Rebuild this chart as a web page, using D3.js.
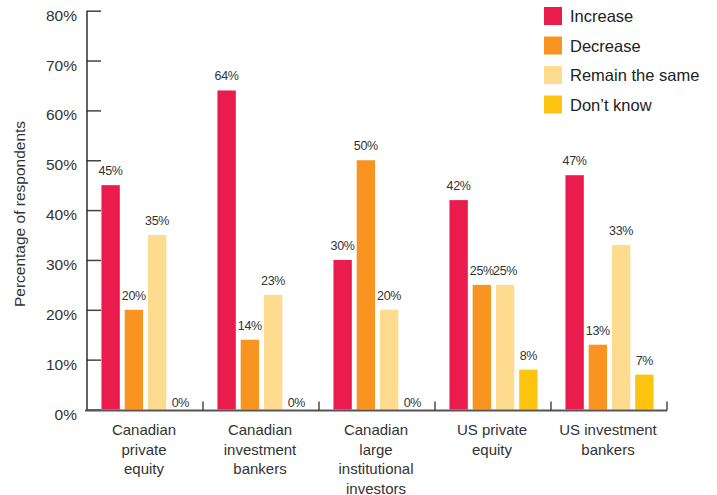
<!DOCTYPE html>
<html>
<head>
<meta charset="utf-8">
<script src="https://cdn.jsdelivr.net/npm/d3@7"></script>
<style>
  html, body { margin: 0; padding: 0; background: #fff; }
  svg { display: block; font-family: "Liberation Sans", Arial, sans-serif; }
</style>
</head>
<body>
<svg id="chart" width="717" height="495"></svg>
<script>
// Survey groups (x categories), split into text lines
const groups = [
  ["Canadian", "private", "equity"],
  ["Canadian", "investment", "bankers"],
  ["Canadian", "large", "institutional", "investors"],
  ["US private", "equity"],
  ["US investment", "bankers"]
];
const seriesNames = ["Increase", "Decrease", "Remain the same", "Don\u2019t know"];
const seriesColors = ["#E91C4D", "#F8941F", "#FEDB8F", "#FEC40F"];

// Percentage of respondents per group, one array per answer
const increase   = [45, 64, 30, 42, 47];
const decrease   = [20, 14, 50, 25, 13];
const remainSame = [35, 23, 20, 25, 33];
const dontKnow   = [0, 0, 0, 8, 7];

const yTicks = [0, 10, 20, 30, 40, 50, 60, 70, 80];

const series = [increase, decrease, remainSame, dontKnow];

const svg = d3.select("#chart");
const plotLeft = 87, plotRight = 667, plotTop = 10.7, plotBottom = 409.5;

const x0 = d3.scaleBand().domain(d3.range(groups.length)).range([plotLeft, plotRight]).paddingInner(0).paddingOuter(0);
const x1 = d3.scaleBand().domain(d3.range(series.length))
  .range([0, x0.bandwidth()]).paddingInner(0.21).paddingOuter(0.6);
const y = d3.scaleLinear().domain([0, 80]).range([plotBottom, plotTop]);

// Bars with value labels
groups.forEach((g, gi) => {
  const gEl = svg.append("g").attr("transform", `translate(${x0(gi) + 0.5},0)`);
  series.forEach((vals, si) => {
    const v = vals[gi];
    if (v > 0) {
      gEl.append("rect")
        .attr("x", x1(si))
        .attr("y", y(v))
        .attr("width", x1.bandwidth())
        .attr("height", y(0) - y(v))
        .attr("fill", seriesColors[si]);
    }
    gEl.append("text")
      .attr("x", x1(si) + x1.bandwidth() / 2)
      .attr("y", v > 0 ? y(v) - 10 : y(0) - 2.5)
      .attr("text-anchor", "middle")
      .attr("font-size", 12.5)
      .attr("letter-spacing", -0.3)
      .attr("fill", "#333")
      .text(v + "%");
  });
});

// Y axis: line, inward ticks and labels
const yAxis = d3.axisRight(y).tickValues(yTicks).tickSize(14).tickFormat("");
const yG = svg.append("g").attr("transform", `translate(${plotLeft},0)`).call(yAxis);
yG.select(".domain").remove();
yG.selectAll(".tick line").attr("stroke", "#444").attr("stroke-width", 1.5);
svg.append("line")
  .attr("x1", plotLeft).attr("x2", plotLeft).attr("y1", plotTop).attr("y2", plotBottom + 1)
  .attr("stroke", "#111").attr("stroke-width", 1.3);
svg.append("g").selectAll("text").data(yTicks).join("text")
  .attr("x", 77)
  .attr("y", d => y(d) + 10)
  .attr("text-anchor", "end")
  .attr("font-size", 15.5)
  .attr("fill", "#333")
  .text(d => d + "%");

// X axis: baseline with upward ticks between groups
const xBounds = groups.map((g, i) => x0(i) + x0.bandwidth());
svg.append("line")
  .attr("x1", plotLeft - 2).attr("x2", plotRight).attr("y1", plotBottom + 1).attr("y2", plotBottom + 1)
  .attr("stroke", "#555").attr("stroke-width", 2);
svg.append("g").selectAll("line").data(xBounds).join("line")
  .attr("x1", d => d).attr("x2", d => d)
  .attr("y1", plotBottom + 1).attr("y2", plotBottom - 8)
  .attr("stroke", "#333").attr("stroke-width", 1.3);

// Group labels
groups.forEach((lines, gi) => {
  const t = svg.append("text")
    .attr("text-anchor", "middle")
    .attr("font-size", 15)
    .attr("fill", "#333");
  lines.forEach((ln, li) => {
    t.append("tspan")
      .attr("x", x0(gi) + x0.bandwidth() / 2 - 1)
      .attr("y", 435 + li * 19.5)
      .text(ln);
  });
});

// Y title
svg.append("text")
  .attr("transform", "translate(25,214) rotate(-90)")
  .attr("text-anchor", "middle")
  .attr("font-size", 15.5)
  .attr("fill", "#333")
  .text("Percentage of respondents");

// Legend
const legend = svg.append("g").attr("transform", "translate(544,7)");
seriesNames.forEach((name, i) => {
  const row = legend.append("g").attr("transform", `translate(0,${i * 29.5})`);
  row.append("rect").attr("width", 18).attr("height", 18).attr("fill", seriesColors[i]);
  row.append("text").attr("x", 26).attr("y", 15)
    .attr("font-size", 16.5).attr("fill", "#222").text(name);
});
</script>
</body>
</html>
